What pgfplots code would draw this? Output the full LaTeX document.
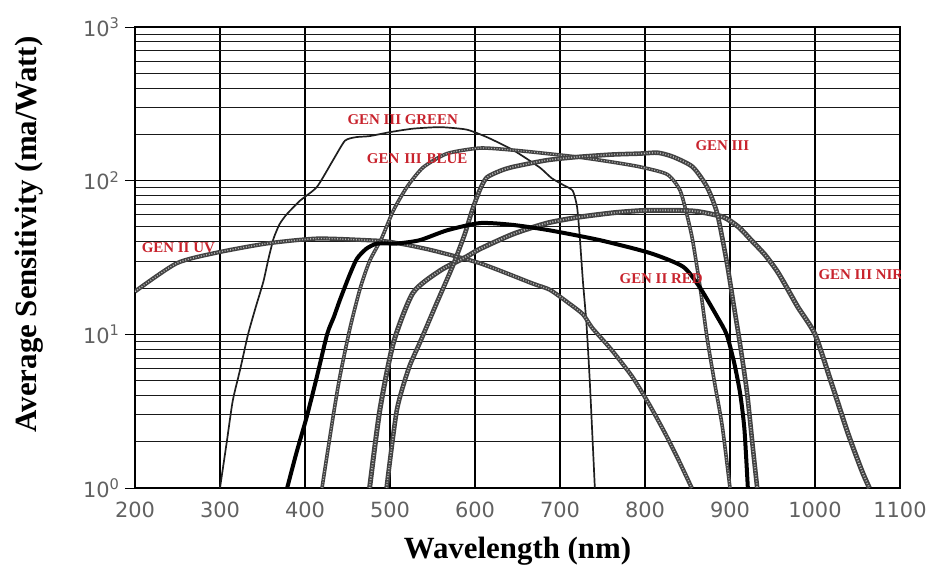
\documentclass[border=0pt]{standalone}
\usepackage{fontspec}
\setmainfont{Liberation Serif}
\newfontfamily\tickfont{DejaVu Sans}
\usepackage{pgfplots}
\pgfplotsset{compat=1.18}
\definecolor{lblred}{RGB}{200,35,45}
\tikzset{
  tex/.style={line width=#1, color=black!74},
  texw/.style={line width=#1, color=white, dash pattern=on 1bp off 1.7bp, opacity=0.6},
}
\begin{document}
\begin{tikzpicture}
\useasboundingbox (-135bp,-80bp) rectangle (795bp,488bp);
\begin{axis}[
  scale only axis,
  width=765bp, height=461bp,
  ymode=log,
  xmin=200, xmax=1100, ymin=1, ymax=1000,
  xtick={200,300,400,500,600,700,800,900,1000,1100},
  xticklabels={200,300,400,500,600,700,800,900,1000,1100},
  ytick={1,10,100,1000},
  yticklabels={10\textsuperscript{0},10\textsuperscript{1},10\textsuperscript{2},10\textsuperscript{3}},
  minor ytick={2,3,4,5,6,7,8,9,20,30,40,50,60,70,80,90,200,300,400,500,600,700,800,900},
  xmajorgrids, ymajorgrids, yminorgrids,
  major grid style={black, line width=1.1bp},
  minor grid style={black!90, line width=0.9bp},
  axis line style={black, line width=1.2bp},
  xtick style={draw=none},
  ytick style={black, line width=1bp},
  minor tick length=0pt,
  major tick length=10bp,
  tick align=outside,
  xtick pos=bottom, ytick pos=left,
  xticklabel style={font=\tickfont\fontsize{21}{21}\selectfont, text=black!62},
  yticklabel style={font=\tickfont\fontsize{21}{21}\selectfont, text=black!62, xshift=-2bp},
  xlabel={\bfseries Wavelength (nm)},
  ylabel={\bfseries Average Sensitivity (ma/Watt)},
  xlabel style={font=\fontsize{31}{31}\selectfont, at={(axis description cs:0.5,-0.136)}, anchor=center},
  ylabel style={font=\fontsize{31}{31}\selectfont, at={(axis description cs:-0.138,0.55)}, anchor=center},
  clip=true,
]
% GEN III GREEN (thin black)
\addplot[black!88, line width=1.7bp, smooth, tension=0.35] coordinates {
(300,1) (308,2) (315,3.7) (324,6) (333,10) (342,15) (351,22) (357,31) (363,42) (370,52) (378,60) (394,74) (414,91) (433,136) (447,182) (460,192) (476,195) (500,207) (527,218) (559,223) (590,215) (614,192) (645,158) (676,122) (690,104) (705,93) (715,86) (720,68) (723,45) (727,22) (731,12) (735,5) (741,1)};
% GEN II UV (textured)
\addplot[tex=4.2bp, smooth, tension=0.4] coordinates {
(200,19) (249,29) (296,34) (355,39) (414,42) (473,41) (500,40) (547,35.5) (606,29) (667,21.5) (688,19.5) (710,16) (727,13.5) (738,11) (760,8) (785,5.3) (805,3.5) (824,2.25) (840,1.5) (855,1)};
\addplot[texw=1.4bp, smooth, tension=0.4] coordinates {
(200,19) (249,29) (296,34) (355,39) (414,42) (473,41) (500,40) (547,35.5) (606,29) (667,21.5) (688,19.5) (710,16) (727,13.5) (738,11) (760,8) (785,5.3) (805,3.5) (824,2.25) (840,1.5) (855,1)};
% GEN III BLUE (textured)
\addplot[tex=3.6bp, smooth, tension=0.4] coordinates {
(420,1) (433,2.9) (441,5.3) (453,11) (465,20) (476,30) (490,42) (504,64) (520,91) (539,122) (567,150) (606,163) (645,158) (685,150) (723,142) (762,132) (794,123) (826,110) (841,87) (849,61) (856,41) (865,20) (873,9.5) (882,4.8) (891,2.5) (900,1)};
\addplot[texw=1.2bp, smooth, tension=0.4] coordinates {
(420,1) (433,2.9) (441,5.3) (453,11) (465,20) (476,30) (490,42) (504,64) (520,91) (539,122) (567,150) (606,163) (645,158) (685,150) (723,142) (762,132) (794,123) (826,110) (841,87) (849,61) (856,41) (865,20) (873,9.5) (882,4.8) (891,2.5) (900,1)};
% GEN III NIR (textured)
\addplot[tex=5bp, smooth, tension=0.4] coordinates {
(476,1) (488,3.2) (504,8.8) (527,18.6) (559,26) (590,32) (606,36) (645,45) (685,53) (723,58) (765,62) (800,64) (840,64) (862,63) (892,58) (910,50) (925,41) (941,33) (955,26) (965,21) (980,15) (1000,10) (1020,4.7) (1039,2.25) (1055,1.3) (1064,1)};
\addplot[texw=1.8bp, smooth, tension=0.4] coordinates {
(476,1) (488,3.2) (504,8.8) (527,18.6) (559,26) (590,32) (606,36) (645,45) (685,53) (723,58) (765,62) (800,64) (840,64) (862,63) (892,58) (910,50) (925,41) (941,33) (955,26) (965,21) (980,15) (1000,10) (1020,4.7) (1039,2.25) (1055,1.3) (1064,1)};
% GEN III (textured)
\addplot[tex=4.6bp, smooth, tension=0.4] coordinates {
(496,1) (508,3.2) (522,6) (535,8.8) (555,16) (574,28) (588,45) (597,65) (606,88) (614,105) (630,116) (645,123) (685,136) (723,143) (762,148) (794,150) (815,152) (833,143) (856,123) (873,91) (885,61) (896,30) (904,16) (912,8.5) (920,4.2) (927,1.8) (932,1)};
\addplot[texw=1.6bp, smooth, tension=0.4] coordinates {
(496,1) (508,3.2) (522,6) (535,8.8) (555,16) (574,28) (588,45) (597,65) (606,88) (614,105) (630,116) (645,123) (685,136) (723,143) (762,148) (794,150) (815,152) (833,143) (856,123) (873,91) (885,61) (896,30) (904,16) (912,8.5) (920,4.2) (927,1.8) (932,1)};
% GEN II RED (thick black)
\addplot[black, line width=4bp, smooth, tension=0.4] coordinates {
(379,1) (390,1.7) (402,2.9) (414,5.3) (426,10) (434,13) (441,16.7) (452,24) (461,31) (472,36) (485,39) (508,39) (535,41) (567,47.5) (606,53) (645,51.5) (688,47.5) (747,41) (806,33.8) (845,27.5) (865,20) (885,13) (896,10) (905,6.5) (912,4.1) (917,2.4) (921,1)};
% labels
\begin{scope}[every node/.style={font=\fontsize{15}{15}\selectfont\bfseries, text=lblred, inner sep=1bp}]
\node at (axis cs:515,251) {GEN III GREEN};
\node at (axis cs:532,140) {GEN\,\,III\,\,BLUE};
\node at (axis cs:891,170) {GEN III};
\node at (axis cs:251,36.4) {GEN II UV};
\node at (axis cs:819,23.2) {GEN II RED};
\node at (axis cs:1054,24.3) {GEN III NIR};
\end{scope}
\end{axis}
\end{tikzpicture}
\end{document}
